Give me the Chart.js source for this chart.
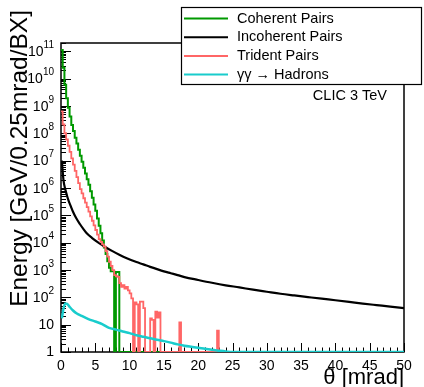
<!DOCTYPE html>
<html>
<head>
<meta charset="utf-8">
<script src="https://cdn.jsdelivr.net/npm/chart.js@4.4.1/dist/chart.umd.min.js"></script>
<style>
  html, body { margin: 0; padding: 0; background: #fff; }
  #wrap { width: 424px; height: 387px; position: relative; }
</style>
</head>
<body>
<div id="wrap"><canvas id="chart" width="424" height="387"></canvas></div>
<script>
// histogram bin width (mrad), bins start at theta = 0
const BIN = 0.25;
const X_MAX = 50;
const Y_MIN = 1;
const Y_MAX = 2e11;

// Coherent pairs, one value per 0.25 mrad bin (0 = empty bin)
const coherent = [
  1.1e11, 2.5e10, 6e9, 1.9e9, 8.5e8, 4.1e8, 2.0e8, 1.2e8, 6.9e7, 4.2e7,
  2.5e7, 1.5e7, 9.1e6, 5.5e6, 3.4e6, 2.1e6, 1.3e6, 7.6e5, 4.4e5, 2.5e5,
  1.45e5, 7.6e4, 4.1e4, 2.2e4, 1.2e4, 6.6e3, 3.8e3, 2.1e3, 1.2e3, 900,
  900, 0, 850, 850
];

// Trident pairs, one value per 0.25 mrad bin (0 = empty bin)
const trident = [
  6.3e8, 2.1e8, 1.0e8, 5.9e7, 3.5e7, 2.1e7, 1.2e7, 7.1e6, 4.2e6, 2.5e6,
  1.5e6, 9.1e5, 6.3e5, 4.2e5, 2.9e5, 2.0e5, 1.35e5, 9.1e4, 6.3e4, 4.3e4,
  2.9e4, 1.95e4, 1.35e4, 1.07e4, 8.7e3, 7.2e3, 4.9e3, 3.1e3, 2.0e3, 1.4e3,
  980, 650, 590, 560, 330, 240, 280, 210, 240, 180,
  140, 91, 0, 65, 55, 0, 70, 70, 40, 0,
  0, 0, 17, 15, 0, 30, 18, 28, 0, 0,
  0, 0, 0, 0, 0, 0, 0, 0, 0, 12,
  0, 0, 0, 0, 0, 0, 0, 0, 0, 0,
  0, 0, 0, 0, 0, 0, 0, 0, 0, 0,
  0, 6
];

// Incoherent pairs (smooth), read at these theta values
const incoherentTheta = [
  0.125, 0.375, 0.625, 0.875, 1.125, 1.375, 1.75, 2.25, 2.75, 3.25,
  3.75, 4.5, 5.5, 6.5, 7.5, 8.5, 9.5, 11, 12, 13,
  14, 15, 16, 17, 18, 20, 22, 24, 26, 28,
  30, 32, 34, 36, 38, 40, 42, 44, 46, 48, 50
];
const incoherent = [
  1.0e7, 1.8e6, 8.9e5, 5.2e5, 3.3e5, 2.3e5, 1.35e5, 7.6e4, 4.8e4, 3.2e4,
  2.2e4, 1.5e4, 9.8e3, 6.8e3, 4.9e3, 3.6e3, 2.75e3, 1.95e3, 1.6e3, 1.3e3,
  1.07e3, 890, 760, 650, 550, 430, 340, 275, 230, 190,
  160, 135, 117, 102, 89, 78, 68, 59, 52, 46, 40
];

// gamma gamma -> hadrons (smooth), read at these theta values
const hadronTheta = [
  0.125, 0.375, 0.625, 0.875, 1.25, 1.75, 2.25, 3, 4, 5,
  6, 7, 8, 9, 10, 11, 12, 13, 14, 15,
  16, 17, 18, 19, 20, 21, 22, 23, 24, 25, 50
];
const hadrons = [
  17, 40, 60, 58, 45, 33, 26, 21, 16, 13,
  10.5, 7.6, 6.6, 5.6, 4.9, 4.1, 3.6, 3.2, 2.8, 2.5,
  2.2, 1.9, 1.7, 1.55, 1.42, 1.32, 1.2, 1.12, 1.05, 1.0, 1.0
];

const seriesNames = ['Coherent Pairs', 'Incoherent Pairs', 'Trident Pairs', 'γγ → Hadrons'];
const seriesColors = ['#009900', '#000000', '#ff6666', '#19cccc'];

const xTickLabels = [0, 5, 10, 15, 20, 25, 30, 35, 40, 45, 50];
const yTickDecades = [0, 1, 2, 3, 4, 5, 6, 7, 8, 9, 10, 11];

const FONT = '"Liberation Sans", Arial, Helvetica, sans-serif';

// step histogram points: bin i spans [i*BIN, (i+1)*BIN]; empty bins sit on the axis floor
function histPoints(values) {
  const pts = values.map((v, i) => ({ x: i * BIN, y: v > 0 ? v : Y_MIN }));
  pts.push({ x: values.length * BIN, y: Y_MIN });
  pts.push({ x: X_MAX, y: Y_MIN });
  return pts;
}

function curvePoints(thetas, values) {
  return thetas.map((t, i) => ({ x: t, y: values[i] > 0 ? values[i] : Y_MIN }));
}

// ROOT-like frame and ticks (under the histograms), labels, titles and legend on top
const rootStyle = {
  id: 'rootStyle',
  beforeDatasetsDraw(chart) {
    const { ctx, chartArea: a, scales: { x, y } } = chart;
    ctx.save();
    ctx.strokeStyle = '#000';
    ctx.lineWidth = 1.5;
    ctx.strokeRect(a.left, a.top, a.right - a.left, a.bottom - a.top);

    ctx.lineWidth = 1;
    ctx.beginPath();
    for (let t = 0; t <= X_MAX; t += 1) {
      const px = Math.round(x.getPixelForValue(t)) + 0.5;
      const len = t % 5 === 0 ? 9 : 4.5;
      ctx.moveTo(px, a.bottom);
      ctx.lineTo(px, a.bottom - len);
    }
    yTickDecades.forEach(d => {
      for (let m = 1; m <= 9; m++) {
        const v = m * Math.pow(10, d);
        if (v > Y_MAX) break;
        const py = Math.round(y.getPixelForValue(v)) + 0.5;
        const len = m === 1 ? 10 : 5;
        ctx.moveTo(a.left, py);
        ctx.lineTo(a.left + len, py);
      }
    });
    ctx.stroke();
    ctx.restore();
  },
  afterDatasetsDraw(chart) {
    const { ctx, chartArea: a, scales: { x, y } } = chart;
    ctx.save();
    ctx.fillStyle = '#000';

    // x labels
    ctx.font = '14px ' + FONT;
    ctx.textAlign = 'center';
    ctx.textBaseline = 'middle';
    xTickLabels.forEach(t => {
      ctx.fillText(String(t), x.getPixelForValue(t), a.bottom + 14);
    });

    // y labels
    const right = a.left - 7;
    yTickDecades.forEach(d => {
      const py = y.getPixelForValue(Math.pow(10, d));
      ctx.textBaseline = 'middle';
      if (d === 0 || d === 1) {
        ctx.font = '14px ' + FONT;
        ctx.textAlign = 'right';
        ctx.fillText(d === 0 ? '1' : '10', right, py);
      } else {
        ctx.font = '10px ' + FONT;
        ctx.textAlign = 'left';
        const exp = String(d);
        const ew = ctx.measureText(exp).width;
        ctx.font = '14px ' + FONT;
        const bw = ctx.measureText('10').width;
        ctx.fillText('10', right - ew - bw, py + 1);
        ctx.font = '10px ' + FONT;
        ctx.fillText(exp, right - ew, py - 6);
      }
    });

    // axis titles
    ctx.textAlign = 'right';
    ctx.textBaseline = 'alphabetic';
    ctx.font = '22px ' + FONT;
    ctx.fillText('θ [mrad]', a.right, 384);
    ctx.save();
    ctx.font = '24.5px ' + FONT;
    ctx.translate(27, 10);
    ctx.rotate(-Math.PI / 2);
    ctx.fillText('Energy [GeV/0.25mrad/BX]', 0, 0);
    ctx.restore();

    // legend box
    ctx.fillStyle = '#fff';
    ctx.fillRect(181, 7, 241, 78);
    ctx.strokeStyle = '#000';
    ctx.lineWidth = 1.2;
    ctx.strokeRect(181.5, 7.5, 240, 77);
    ctx.font = '14.5px ' + FONT;
    ctx.textAlign = 'left';
    ctx.textBaseline = 'middle';
    seriesNames.forEach((name, i) => {
      const ly = 18.5 + i * 18.7;
      ctx.strokeStyle = seriesColors[i];
      ctx.lineWidth = 2;
      ctx.beginPath();
      ctx.moveTo(184, ly);
      ctx.lineTo(228, ly);
      ctx.stroke();
      ctx.fillStyle = '#000';
      ctx.fillText(name, 237, ly);
    });

    // label
    ctx.textAlign = 'right';
    ctx.textBaseline = 'alphabetic';
    ctx.fillText('CLIC 3 TeV', 387, 100);
    ctx.restore();
  }
};

new Chart(document.getElementById('chart'), {
  type: 'line',
  data: {
    datasets: [
      { label: seriesNames[0], data: histPoints(coherent), borderColor: seriesColors[0],
        borderWidth: 2, stepped: 'before', order: 4 },
      { label: seriesNames[1], data: curvePoints(incoherentTheta, incoherent), borderColor: seriesColors[1],
        borderWidth: 2.2, cubicInterpolationMode: 'monotone', order: 3 },
      { label: seriesNames[2], data: histPoints(trident), borderColor: seriesColors[2],
        borderWidth: 1.8, stepped: 'before', order: 2 },
      { label: seriesNames[3], data: curvePoints(hadronTheta, hadrons), borderColor: seriesColors[3],
        borderWidth: 2.5, cubicInterpolationMode: 'monotone', order: 1 }
    ]
  },
  options: {
    responsive: false,
    animation: false,
    elements: { point: { radius: 0 } },
    layout: { padding: { left: 61, right: 20, top: 43, bottom: 35 } },
    scales: {
      x: { type: 'linear', min: 0, max: X_MAX, display: false },
      y: { type: 'logarithmic', min: Y_MIN, max: Y_MAX, display: false }
    },
    plugins: {
      legend: { display: false },
      tooltip: { enabled: false }
    }
  },
  plugins: [rootStyle]
});
</script>
</body>
</html>
